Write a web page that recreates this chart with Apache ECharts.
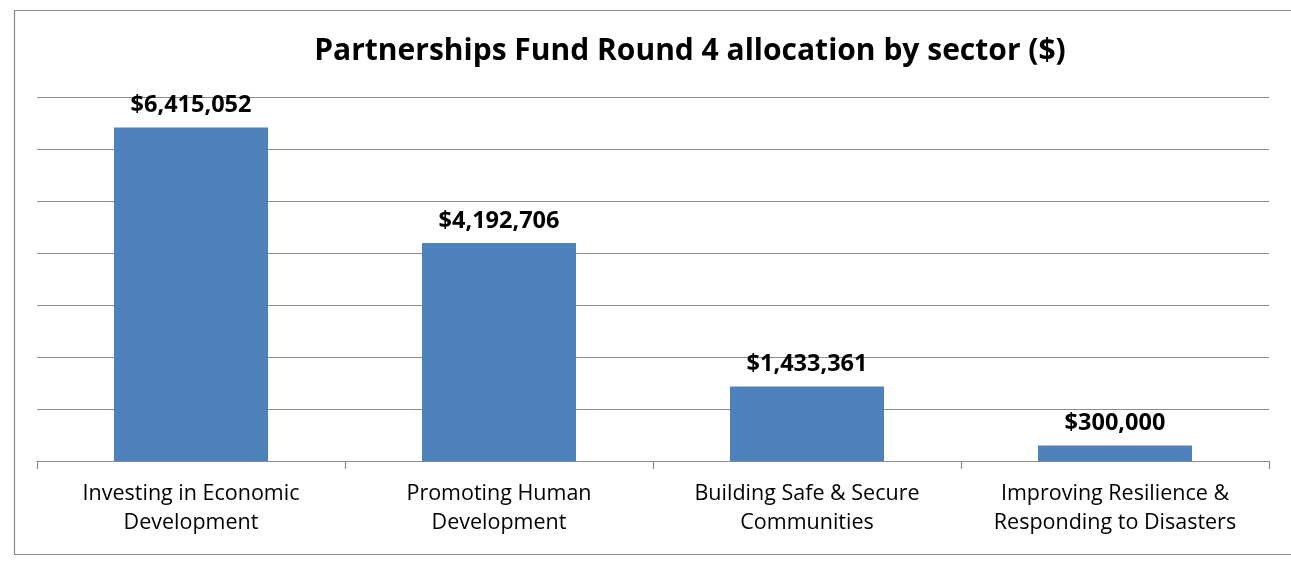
<!DOCTYPE html>
<html><head><meta charset="utf-8">
<script src="https://cdn.jsdelivr.net/npm/echarts@6/dist/echarts.min.js"></script>
<style>html,body{margin:0;padding:0;background:#fff}#c{width:1291px;height:567px}</style>
</head><body><div id="c"></div>
<script>
const titleText = 'Partnerships Fund Round 4 allocation by sector ($)';
const categories = ['Investing in Economic\nDevelopment', 'Promoting Human\nDevelopment', 'Building Safe & Secure\nCommunities', 'Improving Resilience &\nResponding to Disasters'];
const values = [6415052, 4192706, 1433361, 300000];
const yMin = 0, yMax = 7000000, yStep = 1000000;

const FONT = '"Open Sans", Lato, sans-serif';
const chart = echarts.init(document.getElementById('c'), null, {renderer: 'canvas'});
chart.setOption({
  animation: false,
  backgroundColor: '#fff',
  graphic: [{
    type: 'rect', left: 12, top: 8, silent: true,
    shape: {width: 1300, height: 544},
    style: {fill: 'none', stroke: '#8c8c8c', lineWidth: 1.2}
  }, {
    type: 'text', x: 690, y: 51, silent: true,
    style: {text: titleText, align: 'center', verticalAlign: 'middle',
      font: 'bold 30px "Open Sans", Lato, sans-serif', fill: '#000'}
  }],
  grid: {left: 37, right: 22, top: 97, bottom: 106, containLabel: false},
  xAxis: {
    type: 'category', data: categories,
    axisLine: {lineStyle: {color: '#8c8c8c', width: 1.2}},
    axisTick: {show: true, length: 8, alignWithLabel: false, lineStyle: {color: '#8c8c8c', width: 1.2}},
    axisLabel: {fontFamily: FONT, fontSize: 21.5, color: '#000', lineHeight: 29, margin: 18, interval: 0}
  },
  yAxis: {
    type: 'value', min: yMin, max: yMax, interval: yStep,
    axisLine: {show: false}, axisTick: {show: false}, axisLabel: {show: false},
    splitLine: {lineStyle: {color: '#8c8c8c', width: 1.2}}
  },
  series: [{
    type: 'bar', data: values, barWidth: '50%',
    itemStyle: {color: '#4F81BD'},
    label: {
      show: true, position: 'top', distance: 10,
      fontFamily: FONT, fontWeight: 'bold', fontSize: 23.5, color: '#000',
      formatter: p => '$' + p.value.toLocaleString('en-US')
    }
  }]
});
</script></body></html>
